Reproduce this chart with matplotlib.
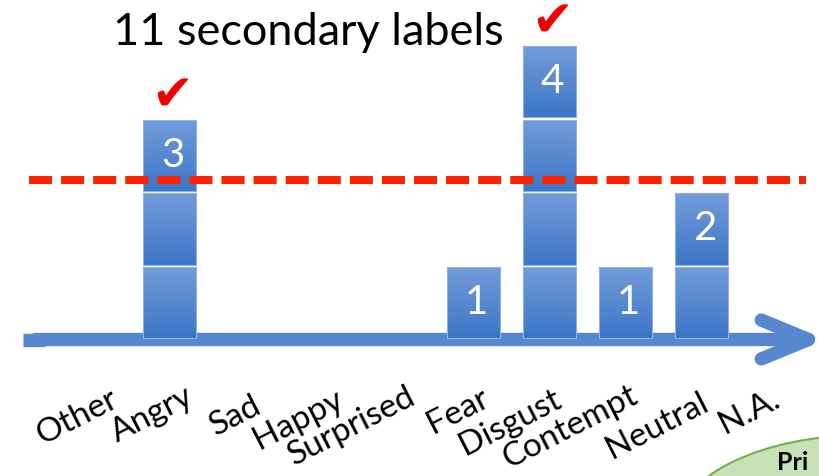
import numpy as np
import matplotlib.pyplot as plt
from matplotlib.patches import Ellipse, FancyArrowPatch
from matplotlib.colors import LinearSegmentedColormap

# emotion categories on the axis and how many annotators picked each one
categories = ["Other", "Angry", "Sad", "Happy", "Surprised",
              "Fear", "Disgust", "Contempt", "Neutral", "N.A."]
counts = [0, 3, 0, 0, 0, 1, 4, 1, 2, 0]
checked = ["Angry", "Disgust"]
threshold = 2.16
title = "11 secondary labels"

# hand placed tick labels: offset of each label centre from its slot (pixels)
label_offsets = [(-16, -78), (-17, -75), (-10, -76), (-23, -80), (-46, -87),
                 (-16, -72), (-39, -83), (-55, -88), (-44, -86), (-28, -72)]

plt.rcParams['font.family'] = ['Lato', 'DejaVu Sans']
plt.rcParams['lines.scale_dashes'] = False

W, H = 819, 476
slot_px, first_px = 76, 93.5      # distance between categories, first slot centre
unit_px, base_px = 73.7, 339.5    # height of one vote block, baseline from top

fig = plt.figure(figsize=(W / 100, H / 100), dpi=100)
ax = fig.add_axes([0, 0, 1, 1])
ax.axis("off")

def px_x(p):
    return (p - first_px) / slot_px

x = np.arange(len(categories))
counts = np.array(counts)

# the long arrow that works as x axis
arrow = FancyArrowPatch((px_x(36), 0), (px_x(826), 0),
                        arrowstyle="->,head_length=3.4,head_width=1.4",
                        mutation_scale=10, lw=9.6, color="#5687cf",
                        capstyle="round", joinstyle="round",
                        shrinkA=0, shrinkB=0, zorder=2)
ax.add_patch(arrow)
ax.hlines(0, px_x(23), px_x(45), color="#5687cf", lw=9.6, zorder=2)

# stacked vote blocks with a soft vertical gradient
gap = 0.03
block_cmap = LinearSegmentedColormap.from_list("block", ["#3c76c7", "#739cda"])
grad = np.linspace(0, 1, 64).reshape(-1, 1)
for level in range(counts.max()):
    has = counts > level
    bars = ax.bar(x[has], 1 - gap, width=0.71, bottom=level + gap / 2,
                  facecolor="none", edgecolor="#8fb1e3", linewidth=0.8, zorder=3.2)
    for b in bars:
        x0, y0 = b.get_xy()
        im = ax.imshow(grad, cmap=block_cmap, origin="lower", aspect="auto",
                       extent=[x0, x0 + b.get_width(), y0, y0 + b.get_height()],
                       zorder=3.1)
        im.set_clip_path(b)

# vote count written inside the top block
for xi, c in zip(x, counts):
    if c:
        ax.text(xi + 0.04, c - 0.5, str(c), color="white", fontsize=29,
                ha="center", va="center", zorder=5)

# majority threshold
ax.hlines(threshold, px_x(29), px_x(806), color="#ff2200", lw=5.8,
          linestyles=(0, (16.6, 6.5)), zorder=4)

# red ticks over the categories that pass the threshold
for name in checked:
    i = categories.index(name)
    ax.annotate("\u2714", xy=(i, counts[i]), xytext=(3, 22), textcoords="offset pixels",
                ha="center", va="center", color="#f20000", fontsize=36,
                family="DejaVu Sans", zorder=5)

# rotated category names under the axis
for xi, name, (dx, dy) in zip(x, categories, label_offsets):
    ax.annotate(name, xy=(xi, 0), xytext=(dx, dy), textcoords="offset pixels",
                rotation=27, ha="center", va="center", fontsize=24)

ax.set_xlim(px_x(0), px_x(W))
ax.set_ylim(-(H - base_px) / unit_px, base_px / unit_px)

fig.text(113 / W, 1 - 45 / H, title, fontsize=32.5, va="baseline")

# corner of the next diagram peeking in
ax.add_patch(Ellipse((865 / W, 1 - 530 / H), 380 / W, 190 / H,
                     transform=fig.transFigure, facecolor="#c8e2b8",
                     edgecolor="#74b04f", lw=1.5, zorder=1))
fig.text(777 / W, 1.5 / H, "Pri", fontsize=18, fontweight="bold", va="bottom")

fig.savefig("out.png", dpi=100)
